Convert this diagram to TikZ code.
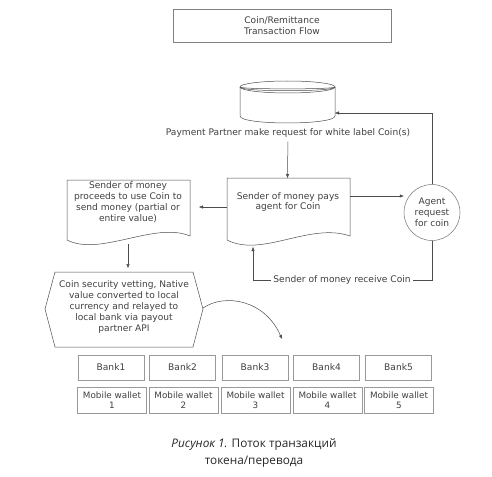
\documentclass[tikz,border=0pt]{standalone}
\usepackage{fontspec}
\setmainfont{DejaVu Sans}
\newfontfamily\capfont{Open Sans}
\usetikzlibrary{arrows.meta,calc}
\begin{document}
\begin{tikzpicture}[x=1pt,y=-1pt,
  ln/.style={draw=black!70, line width=0.5pt},
  arr/.style={ln, -{Triangle[length=4pt,width=3pt]}},
  txt/.style={font=\fontsize{9.1}{10.9}\selectfont, text=black!75, align=center, inner sep=0pt},
  bankbox/.style={txt, draw=black!40, line width=0.6pt, minimum width=66pt, minimum height=25pt},
  walletbox/.style={txt, draw=black!40, line width=0.6pt, minimum width=69pt, minimum height=26pt, font=\fontsize{8.8}{10}\selectfont},
  capstyle/.style={font=\capfont\fontsize{11.8}{17}\selectfont, text=black!85, align=center, inner sep=0pt}]
\useasboundingbox (0,0) rectangle (492,476);

% title
\node[txt, draw=black!50, line width=0.6pt, minimum width=218pt, minimum height=33pt] (title) at (282,25.5) {Coin/Remittance\\Transaction Flow};

% cylinder
\draw[ln] (287.5,87) ellipse [x radius=47.5, y radius=6];
\draw[ln] (240,87) .. controls (240,92) and (335,92) .. (335,87);
\draw[ln] (240,87) .. controls (240,89.5) and (335,89.5) .. (335,87);
\draw[ln] (240,87) -- (240,116) .. controls (240,125.3) and (335,125.3) .. (335,116) -- (335,87);
\coordinate (cylE) at (335,113);
\node[txt] (pp) at (288,133) {Payment Partner make request for white label Coin(s)};

% middle document
\draw[ln] (227,178) -- (350,178) -- (350,236) .. controls (310,222) and (262,258) .. (227,240) -- cycle;
\node[txt] (mid) at (288,202) {Sender of money pays\\agent for Coin};
\coordinate (midtop) at (287.5,178);
\coordinate (midR) at (350,196);
\coordinate (midL) at (227,207);
\coordinate (midB) at (253,247);

% agent circle
\node[txt, circle, draw=black!55, line width=0.5pt, minimum size=56pt] (agent) at (432,212.5) {Agent\\request\\for coin};

% left document
\draw[ln] (67,180) -- (190,180) -- (190,236) .. controls (155,221) and (100,257) .. (67,240) -- cycle;
\node[txt] (left) at (128,202) {Sender of money\\proceeds to use Coin to\\send money (partial or\\entire value)};
\coordinate (leftR) at (199,207);
\coordinate (leftB) at (128,244);

% hexagon
\draw[ln] (45,309) -- (55,272) -- (193,272) -- (203,309) -- (193,347) -- (55,347) -- cycle;
\node[txt] (hex) at (124,307) {Coin security vetting, Native\\value converted to local\\currency and relayed to\\local bank via payout\\partner API};
\coordinate (hexT) at (128,268);
\coordinate (hexR) at (203,308);
\coordinate (banksTop) at (282,339);

% connectors
\draw[arr, shorten <=4pt] (pp) -- (midtop);
\draw[arr] (agent.north) |- (cylE);
\draw[arr] (midR) -- (agent.west |- midR);
\coordinate (loopR) at (432,280);
\draw[arr] (agent.south) -- (loopR) -| (midB);
\node[txt, fill=white, inner xsep=2pt, inner ysep=1pt] (recv) at (342,280) {Sender of money receive Coin};
\draw[arr] (midL) -- (leftR);
\draw[arr] (leftB) -- (hexT);
\draw[arr] (hexR) .. controls (225,293) and (265,300) .. (banksTop);

% banks and wallets
\foreach \i/\x in {1/111,2/182.5,3/255,4/326.5,5/398.5} {
  \node[bankbox] (b\i) at (\x,367.5) {Bank\i};
}
\foreach \i/\x in {1/112,2/183.5,3/255.5,4/327.5,5/399} {
  \node[walletbox] (w\i) at (\x,400) {Mobile wallet\\\i};
}

% caption
\node[capstyle] (cap) at (254,453) {\textit{Рисунок 1.} Поток транзакций\\токена/перевода};
\end{tikzpicture}
\end{document}
